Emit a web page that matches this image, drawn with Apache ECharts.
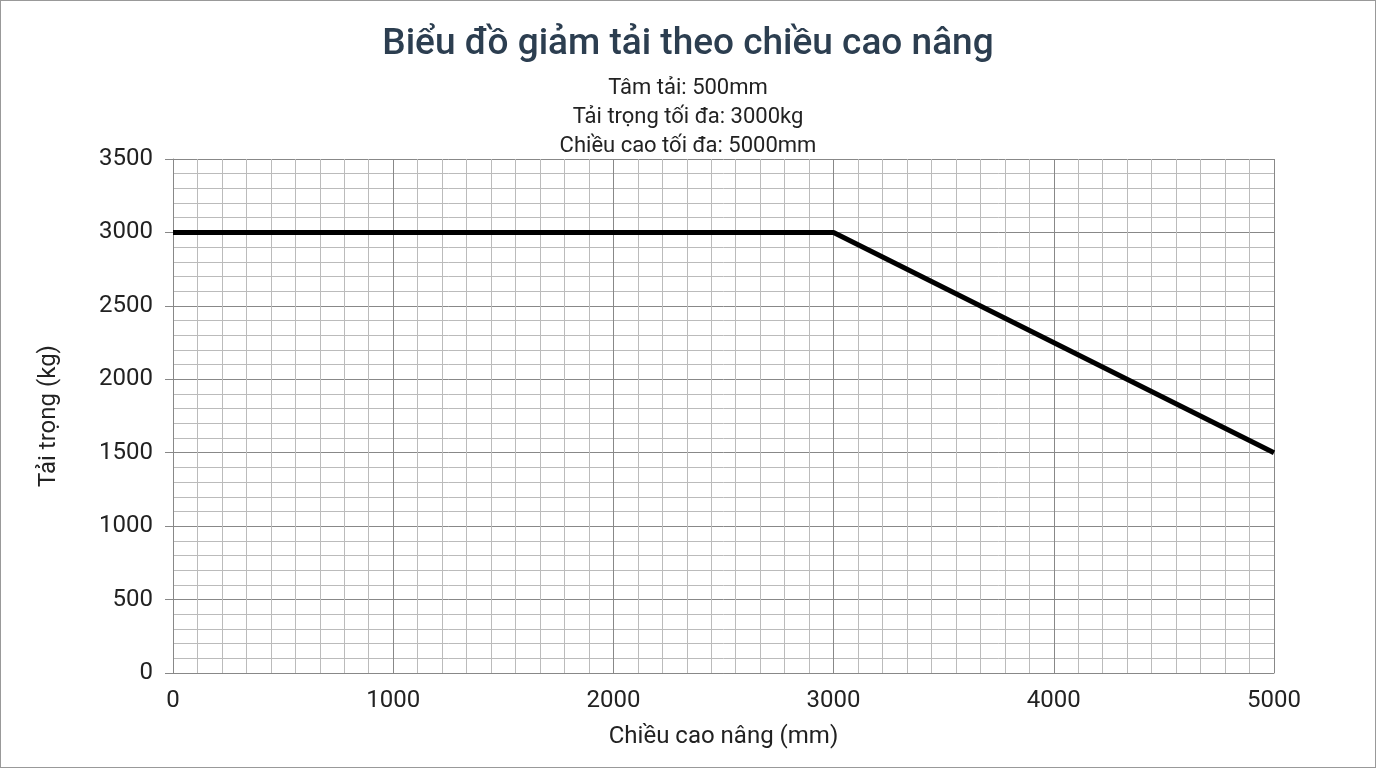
<!DOCTYPE html>
<html lang="vi">
<head>
<meta charset="UTF-8">
<title>Biểu đồ giảm tải</title>
<script src="https://cdn.jsdelivr.net/npm/echarts@6/dist/echarts.min.js"></script>
<style>
html,body{margin:0;padding:0;background:#fff;}
#main{width:1376px;height:768px;box-sizing:border-box;border:1px solid #999;}
</style>
</head>
<body>
<div id="main"></div>
<script>
var heights = [0, 3000, 5000];
var loads = [3000, 3000, 1500];
var subLines = ['Tâm tải: 500mm', 'Tải trọng tối đa: 3000kg', 'Chiều cao tối đa: 5000mm'];

var chart = echarts.init(document.getElementById('main'));
var data = heights.map(function (h, i) { return [h, loads[i]]; });
function plain(v) { return String(v); }
chart.setOption({
    animation: false,
    textStyle: {fontFamily: 'Roboto'},
    title: [
        {text: 'Biểu đồ giảm tải theo chiều cao nâng', left: 'center', top: 20,
         textStyle: {fontSize: 37, fontWeight: 500, color: '#2c3e50', fontFamily: 'Roboto'}},
        {text: subLines.join('\n'), left: 'center', top: 68,
         textStyle: {fontSize: 22, fontWeight: 'normal', color: '#222', lineHeight: 29, fontFamily: 'Roboto'}}
    ],
    grid: {left: 172, right: 101, top: 158, bottom: 94},
    xAxis: {
        type: 'value', min: 0, max: 5000, interval: 1000,
        name: 'Chiều cao nâng (mm)', nameLocation: 'middle', nameGap: 52,
        nameTextStyle: {fontSize: 24, color: '#222'},
        axisLabel: {fontSize: 24, color: '#222', margin: 16, formatter: plain},
        axisLine: {show: true, lineStyle: {color: '#888'}},
        axisTick: {show: false},
        splitLine: {show: true, lineStyle: {color: '#888', width: 1}},
        minorTick: {show: false, splitNumber: 9},
        minorSplitLine: {show: true, lineStyle: {color: '#bbb', width: 1}}
    },
    yAxis: {
        type: 'value', min: 0, max: 3500, interval: 500,
        name: 'Tải trọng (kg)', nameLocation: 'middle', nameGap: 112, nameRotate: 90,
        nameTextStyle: {fontSize: 24, color: '#222'},
        axisLabel: {fontSize: 24, color: '#222', margin: 20, formatter: plain},
        axisLine: {show: true, lineStyle: {color: '#888'}},
        axisTick: {show: true, length: 8, lineStyle: {color: '#888'}},
        splitLine: {show: true, lineStyle: {color: '#888', width: 1}},
        minorTick: {show: false, splitNumber: 5},
        minorSplitLine: {show: true, lineStyle: {color: '#bbb', width: 1}}
    },
    series: [{
        type: 'line', data: data, symbol: 'none',
        lineStyle: {color: '#000', width: 5}
    }]
});
</script>
</body>
</html>
